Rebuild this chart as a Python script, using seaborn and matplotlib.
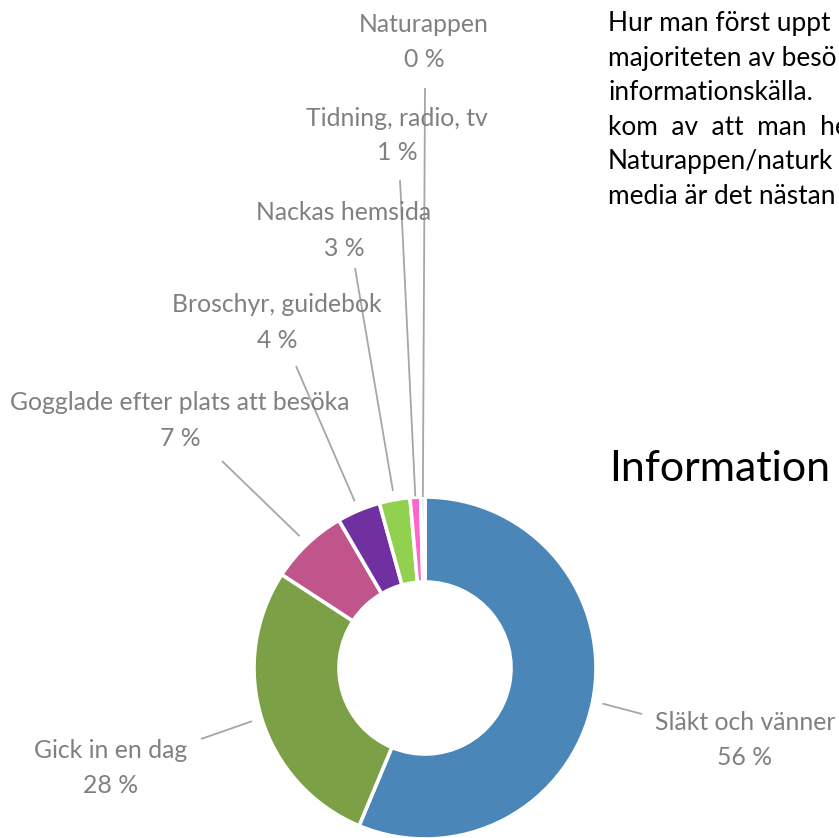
import numpy as np
import matplotlib
matplotlib.use("Agg")
import matplotlib.pyplot as plt
import seaborn as sns

# ---------------- data ----------------
categories = ["Släkt och vänner", "Gick in en dag", "Gogglade efter plats att besöka",
              "Broschyr, guidebok", "Nackas hemsida", "Tidning, radio, tv", "Naturappen"]
values = [56.3, 27.9, 7.4, 4.1, 2.9, 1.0, 0.4]
pct_labels = ["56 %", "28 %", "7 %", "4 %", "3 %", "1 %", "0 %"]
colors = ["#4A86B8", "#7BA046", "#BF558B", "#7130A0", "#92D050", "#FF66CC", "#9DC3E6"]

paragraph = ["Hur man först uppt",
             "majoriteten av besö",
             "informationskälla.",
             "kom  av  att  man  he",
             "Naturappen/naturk",
             "media är det nästan"]
heading = "Information"

# ---------------- layout (pixel space, y measured from top) ----------------
W, H = 839, 838
cx, cy = 425, 668
R, RING = 171, 85
label_pos = [(745, 722), (111, 750), (180, 403), (277, 305), (344, 213), (397, 118), (424, 25)]
line_end = [(642, 714), (201, 739), (222, 461), (296, 366), (355, 268), (400, 180), (425, 88)]
line_r0 = [181, 181, 182, 181, 180, 172, 171]

sns.set_theme(style="white")
plt.rcParams["font.family"] = ["Lato", "DejaVu Sans"]

fig = plt.figure(figsize=(W / 100, H / 100), dpi=100)
ax = fig.add_axes([0, 0, 1, 1])

def fy(y):
    return H - y

pal = sns.color_palette(colors)
wedges, _ = ax.pie(values, colors=pal, radius=R, center=(cx, fy(cy)),
                   startangle=90, counterclock=False,
                   wedgeprops=dict(width=RING, edgecolor="white", linewidth=2.6))

grey = "#808080"
for i, w in enumerate(wedges):
    mid = np.deg2rad((w.theta1 + w.theta2) / 2)
    x0 = cx + line_r0[i] * np.cos(mid)
    y0 = fy(cy) + line_r0[i] * np.sin(mid)
    x1, y1 = line_end[i]
    ax.plot([x0, x1], [y0, fy(y1)], color="#A6A6A6", lw=1.3, solid_capstyle="butt")
    lx, ly = label_pos[i]
    ax.text(lx, fy(ly), categories[i], ha="center", va="center", fontsize=17.8, color=grey)
    ax.text(lx, fy(ly + 35), pct_labels[i], ha="center", va="center", fontsize=17.8, color=grey)

for k, line in enumerate(paragraph):
    ax.text(608, fy(24 + 34.5 * k), line, ha="left", va="center", fontsize=18.9,
            color="black", clip_on=True)
ax.text(609, fy(469), heading, ha="left", va="center", fontsize=31, color="black", clip_on=True)

ax.set_xlim(0, W)
ax.set_ylim(0, H)
ax.set_aspect("auto")
ax.axis("off")

fig.savefig("out.png", dpi=100, facecolor="white")
